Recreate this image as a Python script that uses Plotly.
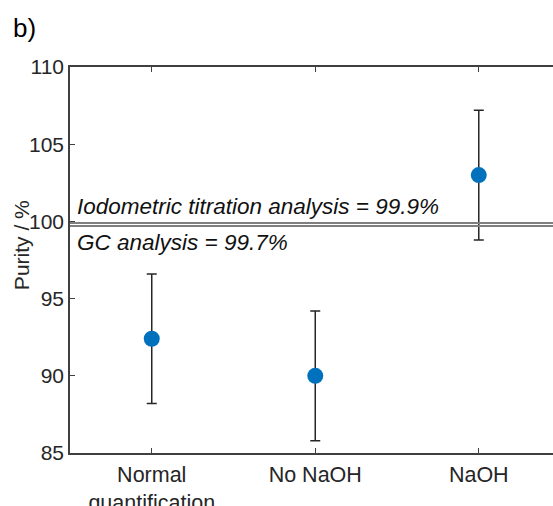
import plotly.graph_objects as go

categories = ["Normal<br>quantification", "No NaOH", "NaOH"]
x_pos = [1, 2, 3]
purity = [92.4, 90.0, 103.0]
err = [4.2, 4.2, 4.2]
ref_values = [99.9, 99.7]
ref_labels = ["Iodometric titration analysis = 99.9%", "GC analysis = 99.7%"]
y_ticks = [85, 90, 95, 100, 105, 110]

FONT = "Liberation Sans, Arial, sans-serif"
AX = "#404040"

fig = go.Figure()

for v in ref_values:
    fig.add_shape(type="line", xref="paper", x0=0, x1=1, yref="y", y0=v, y1=v,
                  line=dict(color="#7f7f7f", width=2), layer="above")

fig.add_trace(go.Scatter(
    x=x_pos, y=purity, mode="markers",
    marker=dict(color="#0072BD", size=16),
    error_y=dict(type="data", array=err, color="#262626", thickness=1.5, width=5),
    showlegend=False,
))

fig.add_annotation(xref="paper", yref="y", x=0.01, y=ref_values[0], yshift=2,
                   text="<i>" + ref_labels[0] + "</i>", showarrow=False,
                   xanchor="left", yanchor="bottom", font=dict(family=FONT, size=22.5, color="#111"))
fig.add_annotation(xref="paper", yref="y", x=0.01, y=ref_values[1], yshift=-2,
                   text="<i>" + ref_labels[1] + "</i>", showarrow=False,
                   xanchor="left", yanchor="top", font=dict(family=FONT, size=22.5, color="#111"))

fig.add_annotation(xref="paper", yref="paper", x=-0.122, y=1.101, text="b)", showarrow=False,
                   xanchor="left", yanchor="middle", font=dict(family=FONT, size=26, color="#000"))

fig.add_annotation(xref="paper", yref="paper", x=-0.099, y=0.539, text="Purity / %",
                   textangle=-90, showarrow=False, xanchor="center", yanchor="middle",
                   font=dict(family=FONT, size=21, color="#262626"))

fig.update_layout(
    width=553, height=506,
    margin=dict(l=70, r=0, t=67, b=53, autoexpand=False),
    plot_bgcolor="white", paper_bgcolor="white",
    font=dict(family=FONT, size=21, color="#262626"),
    xaxis=dict(range=[0.5, 3.454], tickvals=x_pos, ticktext=categories,
               tickfont=dict(size=21.5), ticklabelstandoff=1, automargin=False,
               showgrid=False, zeroline=False, showline=True, linecolor=AX, linewidth=1.5,
               ticks="inside", ticklen=5, tickcolor=AX, mirror="ticks"),
    yaxis=dict(range=[85, 110], tickvals=y_ticks, showgrid=False, zeroline=False,
               showline=True, linecolor=AX, linewidth=1.5, ticks="inside", ticklen=5,
               tickcolor=AX, tickfont=dict(size=21), automargin=False),
)

fig.write_html("out.html")
